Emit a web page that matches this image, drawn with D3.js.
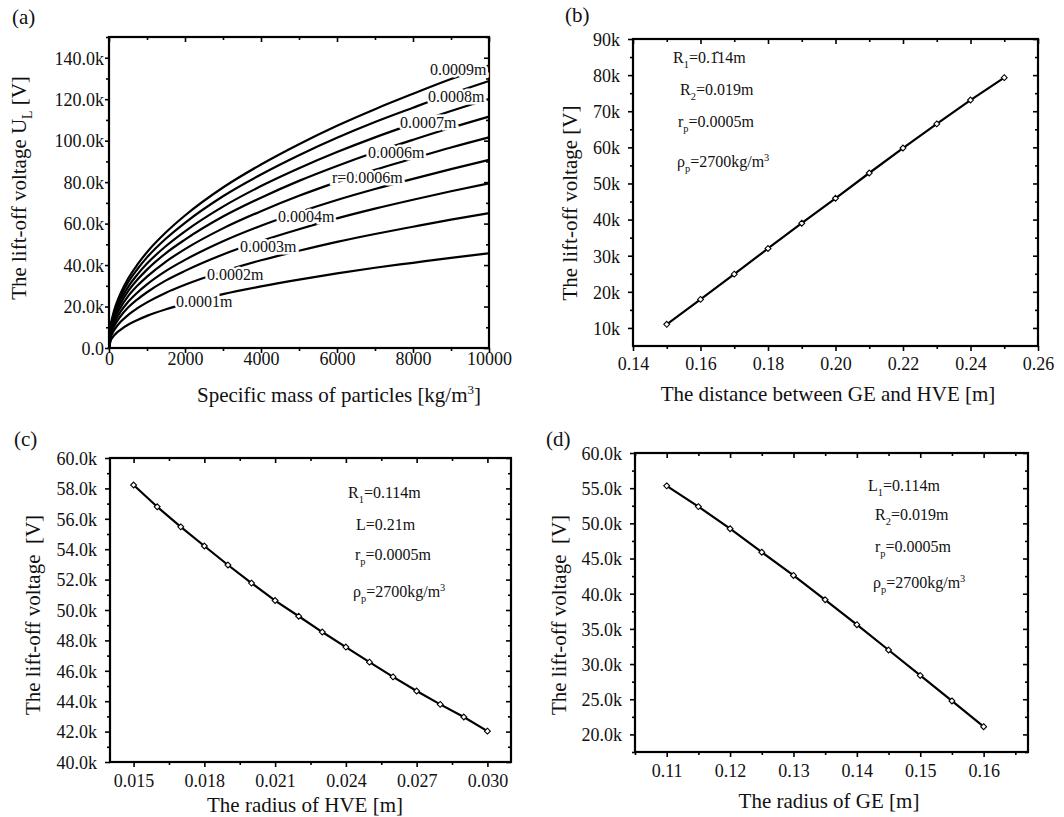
<!DOCTYPE html>
<html>
<head>
<meta charset="utf-8">
<script src="https://cdn.jsdelivr.net/npm/d3@7.9.0/dist/d3.min.js"></script>
<style>
  body { margin: 0; background: #fff; }
  svg { display: block; }
  svg text { font-family: "Liberation Serif", "Times New Roman", serif; }
</style>
</head>
<body>
<svg id="fig" width="1064" height="817"></svg>
<script>
// ---------- panel (a): lift-off voltage vs specific mass (values in kV) ----------
const rhoValues = [0, 50, 100, 200, 300, 500, 750, 1000, 1500, 2000, 3000, 4000, 5000, 6000, 7000, 8000, 9000, 10000];
const curveNames = ['0.0001m', '0.0002m', '0.0003m', '0.0004m', 'r=0.0006m', '0.0006m', '0.0007m', '0.0008m', '0.0009m'];
const voltR1 = [0, 3.8, 5.3, 7.3, 8.8, 11.2, 13.5, 15.5, 18.7, 21.4, 26.0, 29.7, 33.0, 36.0, 38.7, 41.1, 43.5, 45.7];
const voltR2 = [0, 5.4, 7.5, 10.3, 12.5, 15.9, 19.2, 22.0, 26.7, 30.5, 36.9, 42.3, 46.9, 51.2, 55.0, 58.5, 61.9, 65.0];
const voltR3 = [0, 6.6, 9.1, 12.6, 15.2, 19.5, 23.5, 26.9, 32.6, 37.2, 45.1, 51.6, 57.3, 62.5, 67.2, 71.5, 75.6, 79.4];
const voltR4 = [0, 7.5, 10.4, 14.4, 17.4, 22.2, 26.8, 30.7, 37.2, 42.5, 51.5, 59.0, 65.5, 71.4, 76.7, 81.6, 86.3, 90.7];
const voltR5 = [0, 8.4, 11.7, 16.2, 19.5, 24.9, 30.1, 34.4, 41.7, 47.7, 57.7, 66.0, 73.4, 80.0, 86.0, 91.4, 96.7, 101.6];
const voltR6 = [0, 9.3, 12.8, 17.7, 21.4, 27.3, 33.0, 37.8, 45.8, 52.3, 63.4, 72.5, 80.6, 87.8, 94.4, 100.4, 106.2, 111.6];
const voltR7 = [0, 10.0, 13.8, 19.1, 23.1, 29.4, 35.5, 40.7, 49.2, 56.3, 68.2, 78.1, 86.7, 94.5, 101.6, 108.1, 114.3, 120.1];
const voltR8 = [0, 10.7, 14.8, 20.5, 24.7, 31.6, 38.1, 43.7, 52.8, 60.4, 73.2, 83.7, 93.0, 101.4, 109.0, 115.9, 122.6, 128.8];
const voltR9 = [0, 11.3, 15.7, 21.7, 26.2, 33.4, 40.3, 46.2, 55.8, 63.9, 77.4, 88.5, 98.3, 107.2, 115.2, 122.6, 129.7, 136.2];
// where each curve label sits, in data units (rho, kV)
const labelRho = [1763, 2579, 3447, 4447, 5868, 6816, 7658, 8395, 8447];
const labelVolt = [22.2, 35.2, 48.7, 63.2, 82.0, 94.1, 108.5, 121.1, 134.1];

// ---------- panel (b): distance between GE and HVE ----------
const distValues = [0.15, 0.16, 0.17, 0.18, 0.19, 0.20, 0.21, 0.22, 0.23, 0.24, 0.25];
const voltDist = [11.0, 17.9, 24.9, 32.0, 39.0, 45.9, 52.9, 59.8, 66.5, 73.1, 79.3];

// ---------- panel (c): radius of HVE ----------
const hveRadius = [0.015, 0.016, 0.017, 0.018, 0.019, 0.020, 0.021, 0.022, 0.023, 0.024, 0.025, 0.026, 0.027, 0.028, 0.029, 0.030];
const voltHve = [58.22, 56.79, 55.47, 54.21, 52.96, 51.77, 50.62, 49.59, 48.55, 47.56, 46.57, 45.60, 44.67, 43.79, 42.96, 42.03];

// ---------- panel (d): radius of GE ----------
const geRadius = [0.110, 0.115, 0.120, 0.125, 0.130, 0.135, 0.140, 0.145, 0.150, 0.155, 0.160];
const voltGe = [55.33, 52.38, 49.24, 45.90, 42.60, 39.14, 35.60, 32.00, 28.38, 24.76, 21.10];

// tick values
const ticksAx = [0, 2000, 4000, 6000, 8000, 10000];
const minorAx = [1000, 3000, 5000, 7000, 9000];
const ticksAy = [0, 20, 40, 60, 80, 100, 120, 140];
const minorAy = [10, 30, 50, 70, 90, 110, 130, 150];
const ticksBx = [0.14, 0.16, 0.18, 0.20, 0.22, 0.24, 0.26];
const minorBx = [0.15, 0.17, 0.19, 0.21, 0.23, 0.25];
const ticksBy = [10, 20, 30, 40, 50, 60, 70, 80, 90];
const minorBy = [15, 25, 35, 45, 55, 65, 75, 85];
const ticksCx = [0.015, 0.018, 0.021, 0.024, 0.027, 0.030];
const minorCx = [0.0165, 0.0195, 0.0225, 0.0255, 0.0285];
const ticksCy = [40, 42, 44, 46, 48, 50, 52, 54, 56, 58, 60];
const minorCy = [41, 43, 45, 47, 49, 51, 53, 55, 57, 59];
const ticksDx = [0.11, 0.12, 0.13, 0.14, 0.15, 0.16];
const minorDx = [0.105, 0.115, 0.125, 0.135, 0.145, 0.155, 0.165];
const ticksDy = [20, 25, 30, 35, 40, 45, 50, 55, 60];
const minorDy = [17.5, 22.5, 27.5, 32.5, 37.5, 42.5, 47.5, 52.5, 57.5];

const svg = d3.select('#fig');
const FONT_TICK = 18, FONT_TITLE = 21, FONT_NOTE = 16;

// text with sub/superscripts: parts = [[text, 'n'|'sub'|'sup'], ...]
function richText(g, parts, x, y, size) {
  const t = g.append('text').attr('x', x).attr('y', y)
    .attr('font-size', size).attr('fill', '#111');
  let shift = 0;
  parts.forEach(([s, kind]) => {
    const target = kind === 'sub' ? size * 0.3 : kind === 'sup' ? -size * 0.4 : 0;
    t.append('tspan')
      .attr('dy', target - shift)
      .attr('font-size', kind === 'n' ? size : size * 0.65)
      .text(s);
    shift = target;
  });
  return t;
}

function drawPanel(p) {
  const x = d3.scaleLinear().domain(p.xDom).range([p.x0, p.x1]);
  const y = d3.scaleLinear().domain(p.yDom).range([p.y1, p.y0]);
  const g = svg.append('g');

  const addAxis = (axis, tx, ty, vals, size, fmt) => {
    const a = g.append('g').attr('transform', `translate(${tx},${ty})`)
      .call(axis.tickValues(vals).tickSize(size).tickSizeOuter(0).tickFormat(fmt || (() => '')))
      .attr('font-family', null).attr('font-size', null);
    a.select('.domain').remove();
    a.selectAll('line').attr('stroke', '#000').attr('stroke-width', 1.6);
    return a;
  };

  // bottom (outward) with labels
  const bx = addAxis(d3.axisBottom(x), 0, p.y1, p.xTicks, 5, p.xFmt);
  bx.selectAll('text').attr('y', p.xLabOff).attr('dy', 0)
    .attr('font-size', FONT_TICK).attr('fill', '#111');
  addAxis(d3.axisBottom(x), 0, p.y1, p.xMinor, 3);
  // left (outward) with labels
  const ly = addAxis(d3.axisLeft(y), p.x0, 0, p.yTicks, p.yTickLen, p.yFmt);
  ly.selectAll('text').attr('x', -p.yLabOff).attr('dy', '0.35em')
    .attr('font-size', FONT_TICK).attr('fill', '#111');
  addAxis(d3.axisLeft(y), p.x0, 0, p.yMinor, 3);
  // top and right (inward)
  addAxis(d3.axisTop(x), 0, p.y0, p.xTicks, -5);
  addAxis(d3.axisTop(x), 0, p.y0, p.xMinor, -3);
  addAxis(d3.axisRight(y), p.x1, 0, p.yTicks, -5);
  addAxis(d3.axisRight(y), p.x1, 0, p.yMinor, -3);

  // frame
  g.append('rect').attr('x', p.x0).attr('y', p.y0)
    .attr('width', p.x1 - p.x0).attr('height', p.y1 - p.y0)
    .attr('fill', 'none').attr('stroke', '#000').attr('stroke-width', 2.2);

  // titles
  g.append('text').attr('x', p.xTitle[0]).attr('y', p.xTitle[1])
    .attr('text-anchor', 'middle').attr('font-size', FONT_TITLE).attr('fill', '#111')
    .call(t => p.xTitleParts.forEach(([s, k]) => {
      t.append('tspan').attr('dy', k === 'sup' ? -8 : (k === 'back' ? 8 : 0))
        .attr('font-size', k === 'sup' ? 13 : FONT_TITLE).text(s);
    }));
  richText(g, p.yTitleParts, 0, 0, FONT_TITLE)
    .attr('text-anchor', 'middle')
    .attr('transform', `translate(${p.yTitle[0]},${p.yTitle[1]}) rotate(-90)`);

  // panel letter
  g.append('text').attr('x', p.tag[0]).attr('y', p.tag[1])
    .attr('font-size', FONT_TITLE).attr('fill', '#111').text(p.tagText);

  return { g, x, y };
}

const fmtK1 = d => d === 0 ? '0.0' : d3.format('.1f')(d) + 'k';

// ---------- (a) ----------
const A = drawPanel({
  x0: 109, x1: 489, y0: 37, y1: 348, xDom: [0, 10000], yDom: [0, 150],
  xTicks: ticksAx, xMinor: minorAx, yTicks: ticksAy, yMinor: minorAy,
  xFmt: d3.format('d'), yFmt: fmtK1, xLabOff: 17, yLabOff: 5, yTickLen: 4,
  xTitle: [339, 402], xTitleParts: [['Specific mass of particles [kg/m', 'n'], ['3', 'sup'], [']', 'back']],
  yTitle: [26, 188], yTitleParts: [['The lift-off voltage U', 'n'], ['L', 'sub'], [' [V]', 'n']],
  tag: [12, 24], tagText: '(a)'
});
const curvesA = [voltR1, voltR2, voltR3, voltR4, voltR5, voltR6, voltR7, voltR8, voltR9];
const lineA = d3.line().x((d, i) => A.x(rhoValues[i])).y(d => A.y(d)).curve(d3.curveMonotoneX);
A.g.selectAll('path.curve').data(curvesA).enter().append('path')
  .attr('class', 'curve').attr('d', lineA)
  .attr('fill', 'none').attr('stroke', '#000').attr('stroke-width', 2.2)
  .attr('stroke-linejoin', 'round');
A.g.selectAll('text.clab').data(curveNames).enter().append('text')
  .attr('class', 'clab')
  .attr('x', (d, i) => A.x(labelRho[i]))
  .attr('y', (d, i) => A.y(labelVolt[i]) + 5)
  .attr('font-size', 16).attr('fill', '#111')
  .attr('stroke', '#fff').attr('stroke-width', 5).attr('paint-order', 'stroke')
  .text(d => d);

// markers + line for b, c, d
function drawSeries(P, xs, ys) {
  const line = d3.line().x((d, i) => P.x(xs[i])).y(d => P.y(d));
  P.g.append('path').datum(ys).attr('d', line)
    .attr('fill', 'none').attr('stroke', '#000').attr('stroke-width', 2.2);
  P.g.selectAll('path.mk').data(ys).enter().append('path')
    .attr('class', 'mk')
    .attr('d', d3.symbol(d3.symbolDiamond2, 22))
    .attr('transform', (d, i) => `translate(${P.x(xs[i])},${P.y(d)})`)
    .attr('fill', '#fff').attr('stroke', '#000').attr('stroke-width', 1.1);
}

function notes(P, rows) {
  rows.forEach(r => richText(P.g, r.parts, r.x, r.y, FONT_NOTE));
}

// ---------- (b) ----------
const B = drawPanel({
  x0: 633, x1: 1038, y0: 39, y1: 346, xDom: [0.14, 0.26], yDom: [5, 90],
  xTicks: ticksBx, xMinor: minorBx, yTicks: ticksBy, yMinor: minorBy,
  xFmt: d3.format('.2f'), yFmt: d => d + 'k', xLabOff: 24, yLabOff: 13, yTickLen: 5,
  xTitle: [828, 401], xTitleParts: [['The distance between GE and HVE [m]', 'n']],
  yTitle: [577, 203], yTitleParts: [['The lift-off voltage [V]', 'n']],
  tag: [565, 22], tagText: '(b)'
});
drawSeries(B, distValues, voltDist);
notes(B, [
  { x: 673, y: 63, parts: [['R', 'n'], ['1', 'sub'], ['=0.1\u030214m', 'n']] },
  { x: 680, y: 95, parts: [['R', 'n'], ['2', 'sub'], ['=0.019m', 'n']] },
  { x: 678, y: 127, parts: [['r', 'n'], ['p', 'sub'], ['=0.0005m', 'n']] },
  { x: 677, y: 167, parts: [['\u03c1', 'n'], ['p', 'sub'], ['=2700kg/m', 'n'], ['3', 'sup']] }
]);

// ---------- (c) ----------
const C = drawPanel({
  x0: 110, x1: 511, y0: 458, y1: 762, xDom: [0.014, 0.031], yDom: [40, 60],
  xTicks: ticksCx, xMinor: minorCx, yTicks: ticksCy, yMinor: minorCy,
  xFmt: d3.format('.3f'), yFmt: fmtK1, xLabOff: 25, yLabOff: 13, yTickLen: 5,
  xTitle: [305, 812], xTitleParts: [['The radius of HVE [m]', 'n']],
  yTitle: [40, 615], yTitleParts: [['The lift-off voltage\u00a0 [V]', 'n']],
  tag: [14, 446], tagText: '(c)'
});
drawSeries(C, hveRadius, voltHve);
notes(C, [
  { x: 348, y: 498, parts: [['R', 'n'], ['1', 'sub'], ['=0.114m', 'n']] },
  { x: 356, y: 530, parts: [['L=0.21m', 'n']] },
  { x: 355, y: 560, parts: [['r', 'n'], ['p', 'sub'], ['=0.0005m', 'n']] },
  { x: 353, y: 597, parts: [['\u03c1', 'n'], ['p', 'sub'], ['=2700kg/m', 'n'], ['3', 'sup']] }
]);

// ---------- (d) ----------
const D = drawPanel({
  x0: 635, x1: 1028, y0: 453, y1: 752, xDom: [0.105, 0.167], yDom: [17.5, 60],
  xTicks: ticksDx, xMinor: minorDx, yTicks: ticksDy, yMinor: minorDy,
  xFmt: d3.format('.2f'), yFmt: fmtK1, xLabOff: 25, yLabOff: 13, yTickLen: 5,
  xTitle: [829, 808], xTitleParts: [['The radius of GE [m]', 'n']],
  yTitle: [566, 615], yTitleParts: [['The lift-off voltage\u00a0 [V]', 'n']],
  tag: [546, 446], tagText: '(d)'
});
drawSeries(D, geRadius, voltGe);
notes(D, [
  { x: 868, y: 491, parts: [['L', 'n'], ['1', 'sub'], ['=0.114m', 'n']] },
  { x: 875, y: 520, parts: [['R', 'n'], ['2', 'sub'], ['=0.019m', 'n']] },
  { x: 875, y: 552, parts: [['r', 'n'], ['p', 'sub'], ['=0.0005m', 'n']] },
  { x: 873, y: 588, parts: [['\u03c1', 'n'], ['p', 'sub'], ['=2700kg/m', 'n'], ['3', 'sup']] }
]);
</script>
</body>
</html>
